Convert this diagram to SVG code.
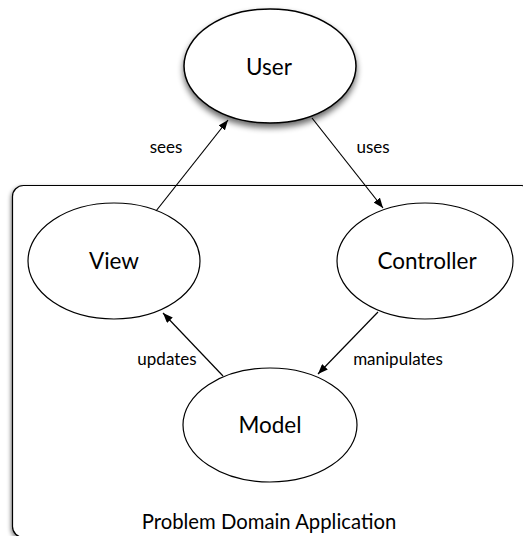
<svg xmlns="http://www.w3.org/2000/svg" width="523" height="536" viewBox="0 0 523 536">
<defs>
<style>
.node{fill:#fff;stroke:#000;stroke-width:1.2}
.lbl{font-family:Lato,"Open Sans",sans-serif;font-size:22.5px;fill:#000;text-anchor:middle}
.edge{font-family:Lato,"Open Sans",sans-serif;font-size:17px;fill:#000;text-anchor:middle}
.conn{stroke:#000;stroke-width:1.2;fill:none;marker-end:url(#ah)}
</style>
<marker id="ah" viewBox="0 0 10 8" refX="10" refY="4" markerWidth="10" markerHeight="8" markerUnits="userSpaceOnUse" orient="auto">
<path d="M0,0 L10,4 L0,8 Z" fill="#000"/>
</marker>
<filter id="sh" x="-20%" y="-20%" width="140%" height="150%">
<feGaussianBlur in="SourceAlpha" stdDeviation="3"/>
<feOffset dx="0" dy="4" result="b"/>
<feComponentTransfer><feFuncA type="linear" slope="0.6"/></feComponentTransfer>
<feMerge><feMergeNode/><feMergeNode in="SourceGraphic"/></feMerge>
</filter>
<filter id="bsh" x="-5%" y="-5%" width="110%" height="110%">
<feGaussianBlur in="SourceAlpha" stdDeviation="2"/>
<feOffset dx="-1" dy="2"/>
<feComponentTransfer><feFuncA type="linear" slope="0.5"/></feComponentTransfer>
<feMerge><feMergeNode/><feMergeNode in="SourceGraphic"/></feMerge>
</filter>
</defs>
<rect width="523" height="536" fill="#fff"/>
<g id="domain">
<rect x="12.5" y="185.5" width="520" height="352" rx="11" ry="11" fill="#fff" stroke="#000" stroke-width="1.2" filter="url(#bsh)"/>
<text class="lbl" x="269" y="529" style="font-size:20.3px">Problem Domain Application</text>
</g>
<g id="user">
<ellipse class="node" cx="270" cy="66" rx="86" ry="57" filter="url(#sh)" style="stroke-width:1.5"/>
<text class="lbl" x="269" y="75">User</text>
</g>
<g id="view">
<ellipse class="node" cx="114" cy="261" rx="86" ry="58"/>
<text class="lbl" x="114" y="269">View</text>
</g>
<g id="controller">
<ellipse class="node" cx="425" cy="261" rx="88" ry="58"/>
<text class="lbl" x="427" y="269">Controller</text>
</g>
<g id="model">
<ellipse class="node" cx="270" cy="425" rx="87" ry="57"/>
<text class="lbl" x="270" y="433">Model</text>
</g>
<g id="connectors">
<line class="conn" x1="156" y1="211" x2="228" y2="120"/>
<line class="conn" x1="312" y1="118" x2="383" y2="208"/>
<line class="conn" x1="378" y1="312" x2="318" y2="374"/>
<line class="conn" x1="223" y1="376" x2="163" y2="313"/>
<text class="edge" x="166" y="153">sees</text>
<text class="edge" x="373" y="153">uses</text>
<text class="edge" x="167" y="365">updates</text>
<text class="edge" x="398" y="365">manipulates</text>
</g>
</svg>
